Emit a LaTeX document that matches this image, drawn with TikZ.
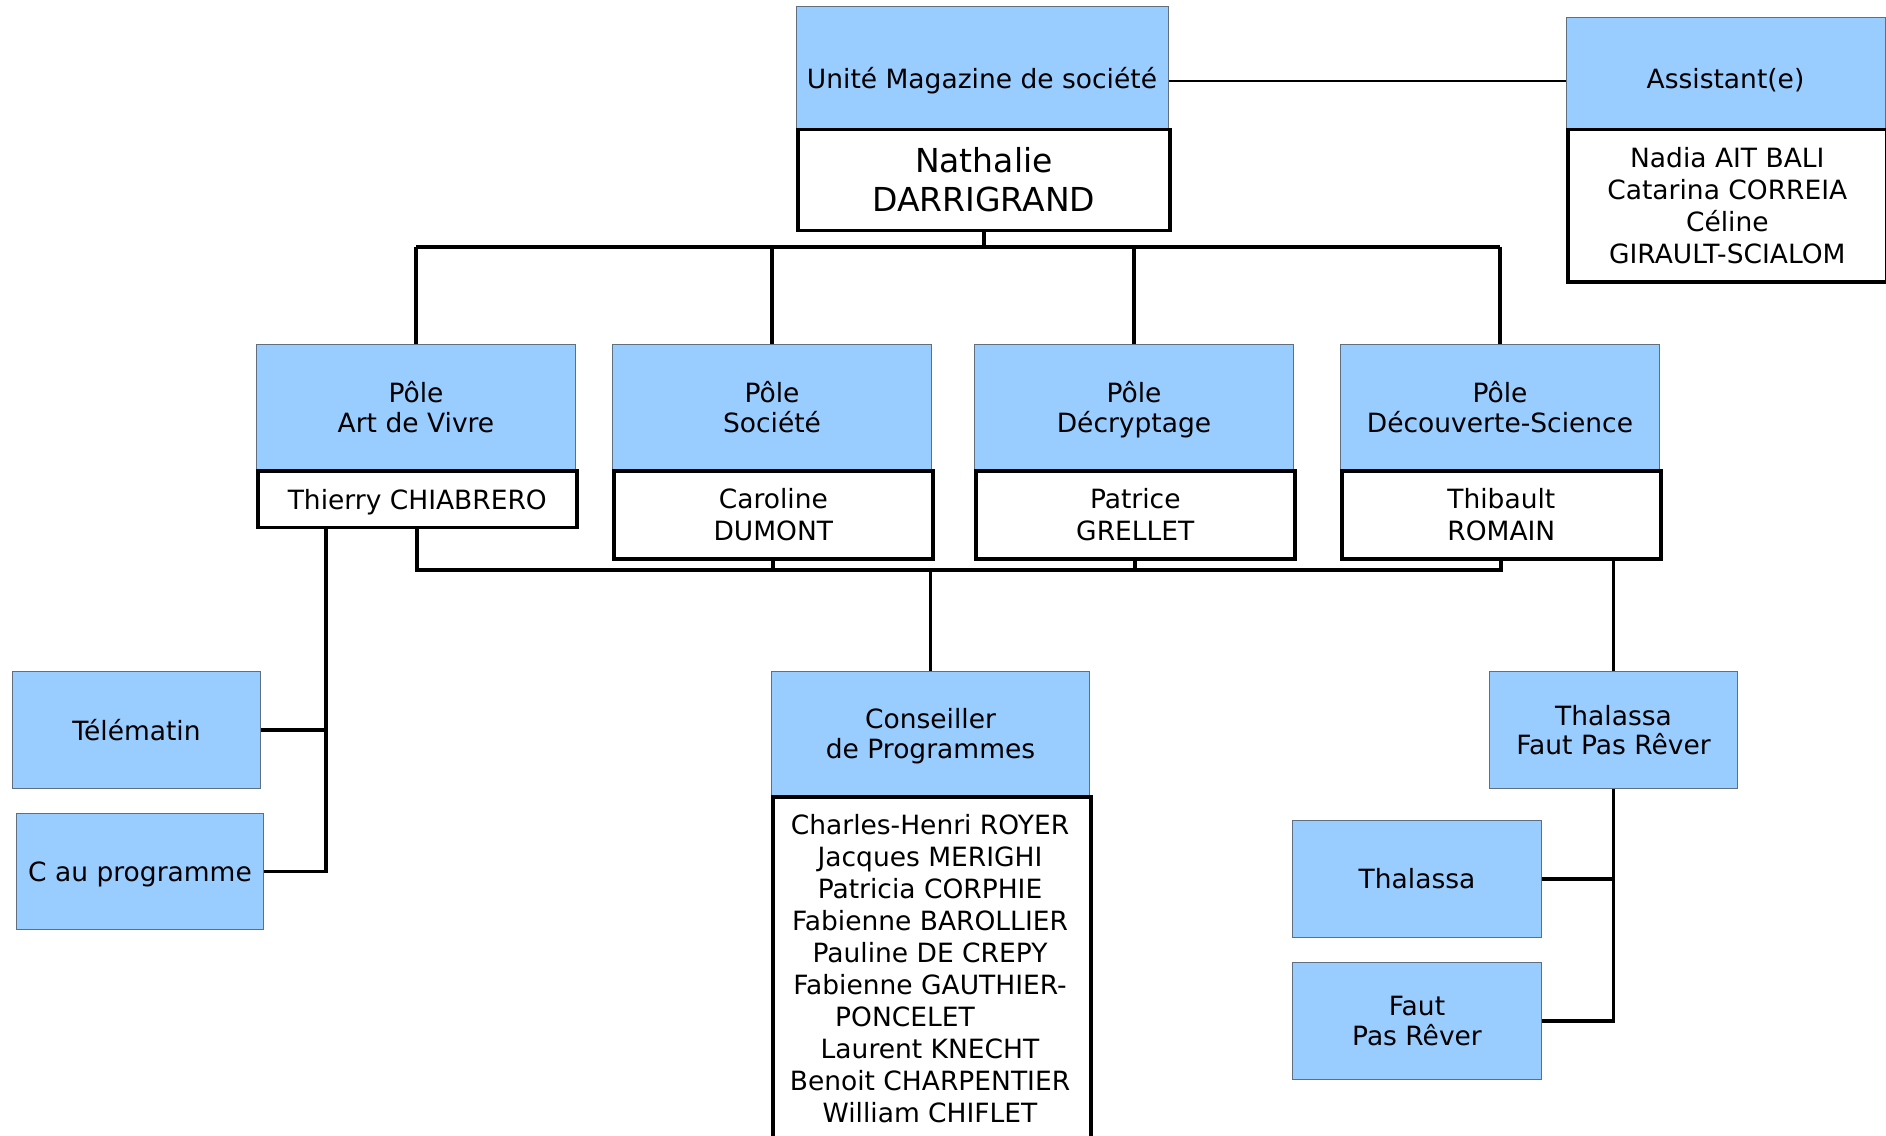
\documentclass[tikz,border=0pt]{standalone}
\usepackage{fontspec}
\setmainfont{DejaVu Sans}
\definecolor{boxblue}{HTML}{99CCFF}
\definecolor{edgegray}{HTML}{5F6F80}
\newcommand\fsA{\fontsize{26.5}{29.5}\selectfont}
\newcommand\fsB{\fontsize{26.5}{32}\selectfont}
\newcommand\fsC{\fontsize{33}{38.5}\selectfont}
\newcommand\nodepth[1]{\raisebox{0pt}[\height][0pt]{#1}}
\tikzset{
  bluebox/.style={draw=edgegray, line width=1pt, fill=boxblue, rectangle,
    inner sep=0pt, anchor=north west, align=center, font=\fsA},
  whitebox/.style={draw=black, line width=3.6pt, fill=white, rectangle,
    inner sep=0pt, anchor=north west, align=center, font=\fsB},
  txt/.style={inner sep=0pt, align=center, font=\fsA},
  conn/.style={draw=black, line width=3.8pt},
  thinconn/.style={draw=black, line width=1.8pt},
}
\begin{document}
\begin{tikzpicture}[x=1pt,y=-1pt]
\useasboundingbox[fill=white] (0,0) rectangle (1886,1135);
% top
\node[bluebox, minimum width=372pt, minimum height=121.5pt] (unite) at (796,6) {};
\node[txt] (ut) at (982,81) {Unité Magazine de société};
\node[whitebox, minimum width=372pt, minimum height=101pt, font=\fsC] (nath) at (796,127.5) {Nathalie\\DARRIGRAND};
\node[bluebox, minimum width=319pt, minimum height=110.5pt] (asst) at (1566,17) {};
\node[txt] (at) at (1725.5,80) {Assistant(e)};
\node[whitebox, minimum width=319pt, minimum height=152.5pt] (asstw) at (1566,127.5) {Nadia AIT BALI\\Catarina CORREIA\\Céline\\GIRAULT-SCIALOM};
% poles
\node[bluebox, minimum width=319pt, minimum height=125pt] (p1) at (256,344) {Pôle\\Art de Vivre};
\node[whitebox, minimum width=319pt, minimum height=56.6pt] (p1w) at (256,469) {\nodepth{Thierry CHIABRERO}};
\node[bluebox, minimum width=319pt, minimum height=125pt] (p2) at (612,344) {Pôle\\Société};
\node[whitebox, minimum width=319pt, minimum height=88pt] (p2w) at (612,469) {Caroline\\DUMONT};
\node[bluebox, minimum width=319pt, minimum height=125pt] (p3) at (974,344) {Pôle\\\nodepth{Décryptage}};
\node[whitebox, minimum width=319pt, minimum height=88pt] (p3w) at (974,469) {Patrice\\GRELLET};
\node[bluebox, minimum width=319pt, minimum height=125pt] (p4) at (1340,344) {Pôle\\Découverte-Science};
\node[whitebox, minimum width=319pt, minimum height=88pt] (p4w) at (1340,469) {Thibault\\ROMAIN};
% left
\node[bluebox, minimum width=248pt, minimum height=117pt] (tele) at (12,671) {Télématin};
\node[bluebox, minimum width=247pt, minimum height=116pt] (cprog) at (16,813) {\nodepth{C au programme}};
% centre
\node[bluebox, minimum width=318pt, minimum height=124pt] (cons) at (771,671) {Conseiller\\\nodepth{de Programmes}};
\node[whitebox, minimum width=318pt, minimum height=360pt] (consw) at (771,795) {};
\node[txt, font=\fsB, anchor=north] (clist) at (930,814) {Charles-Henri ROYER\\Jacques MERIGHI\\Patricia CORPHIE\\Fabienne BAROLLIER\\Pauline DE CREPY\\Fabienne GAUTHIER-\\\hspace*{-50pt}PONCELET\\Laurent KNECHT\\Benoit CHARPENTIER\\William CHIFLET};
% right
\node[bluebox, minimum width=248pt, minimum height=117pt] (tfpr) at (1489,671) {Thalassa\\Faut Pas Rêver};
\node[bluebox, minimum width=249pt, minimum height=117pt] (thal) at (1292,820) {Thalassa};
\node[bluebox, minimum width=249pt, minimum height=117pt] (fpr) at (1292,962) {Faut\\Pas Rêver};
% coordinates
\coordinate (bus) at (0,246.6);
\coordinate (lbus) at (0,570);
\coordinate (artx) at (326,0);
% connectors
\draw[thinconn] (unite.east |- ut) -- (asst.west |- ut);
\draw[conn] (nath.south) -- (nath.south |- bus);
\draw[conn] (p1.north |- bus) -- (p4.north |- bus);
\foreach \p in {p1,p2,p3,p4} { \draw[conn] (\p.north |- bus) -- (\p.north); }
\draw[conn] (p1w.south) -- (p1w.south |- lbus) -- (p4w.south |- lbus) -- (p4w.south);
\draw[conn] (p2w.south) -- (p2w.south |- lbus);
\draw[conn] (p3w.south) -- (p3w.south |- lbus);
\draw[conn] (cons.north |- lbus) -- (cons.north);
\draw[conn] (p1w.south -| artx) -- (artx |- cprog.east) -- (cprog.east);
\draw[conn] (tele.east) -- (artx |- tele.east);
\draw[conn] (p4w.south -| tfpr.north) -- (tfpr.north);
\draw[conn] (tfpr.south) -- (tfpr.south |- fpr.east) -- (fpr.east);
\draw[conn] (thal.east) -- (thal.east -| tfpr.south);
\end{tikzpicture}
\end{document}
